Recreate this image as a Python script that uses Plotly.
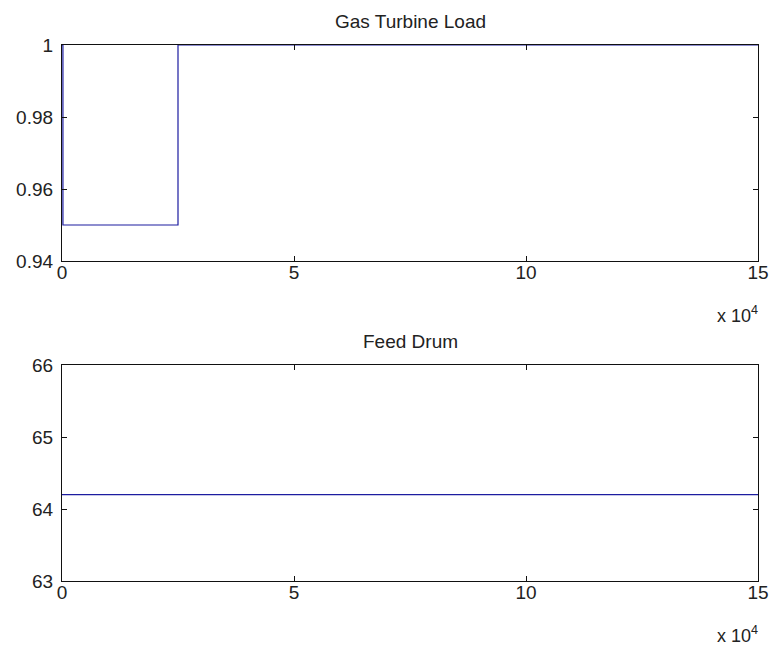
import plotly.graph_objects as go

# Gas turbine load (per-unit) step profile over time
load_t = [0, 200, 200, 25000, 25000, 150000]
load_y = [1.0, 1.0, 0.95, 0.95, 1.0, 1.0]

# Feed drum level over time
drum_t = [0, 150000]
drum_y = [64.2, 64.2]

x_tickvals = [0, 50000, 100000, 150000]
x_ticktext = ["0", "5", "10", "15"]
load_tickvals = [0.94, 0.96, 0.98, 1.0]
load_ticktext = ["0.94", "0.96", "0.98", "1"]
drum_tickvals = [63, 64, 65, 66]
drum_ticktext = ["63", "64", "65", "66"]

line_color = "#1c1ca0"
text_color = "#222222"
font_family = "Liberation Sans, Arial, sans-serif"
font_size = 19

W, H = 773, 653
ml, mr, mt, mb = 62, 15, 45, 72
plot_h = H - mt - mb
panel_h = 216
top_dom = [(plot_h - panel_h) / plot_h, 1.0]
bot_dom = [0.0, panel_h / plot_h]

fig = go.Figure()
fig.add_trace(go.Scatter(x=load_t, y=load_y, mode="lines",
                         line=dict(color=line_color, width=1.2),
                         xaxis="x", yaxis="y", showlegend=False, cliponaxis=False))
fig.add_trace(go.Scatter(x=drum_t, y=drum_y, mode="lines",
                         line=dict(color=line_color, width=1.2),
                         xaxis="x2", yaxis="y2", showlegend=False))

axis_common = dict(showline=True, linecolor="#111111", linewidth=1.2, mirror="ticks",
                   ticks="inside", ticklen=5, tickwidth=1, tickcolor="#111111",
                   showgrid=False, zeroline=False, layer="above traces", automargin=False,
                   tickfont=dict(family=font_family, size=font_size, color=text_color))

fig.update_layout(
    width=W, height=H,
    margin=dict(l=ml, r=mr, t=mt, b=mb),
    paper_bgcolor="white", plot_bgcolor="white",
    xaxis=dict(domain=[0, 1], range=[0, 150000], tickvals=x_tickvals, ticktext=x_ticktext,
               anchor="y", ticklabelstandoff=-6, **axis_common),
    yaxis=dict(domain=top_dom, range=[0.94, 1.0], tickvals=load_tickvals, ticktext=load_ticktext,
               anchor="x", ticklabelstandoff=4, **axis_common),
    xaxis2=dict(domain=[0, 1], range=[0, 150000], tickvals=x_tickvals, ticktext=x_ticktext,
                anchor="y2", ticklabelstandoff=-6, **axis_common),
    yaxis2=dict(domain=bot_dom, range=[63, 66], tickvals=drum_tickvals, ticktext=drum_ticktext,
                anchor="x2", ticklabelstandoff=4, **axis_common),
    annotations=[
        dict(text="Gas Turbine Load", x=0.5, y=top_dom[1], xref="paper", yref="paper",
             xanchor="center", yanchor="bottom", yshift=11, showarrow=False,
             font=dict(family=font_family, size=font_size, color=text_color)),
        dict(text="Feed Drum", x=0.5, y=bot_dom[1], xref="paper", yref="paper",
             xanchor="center", yanchor="bottom", yshift=11, showarrow=False,
             font=dict(family=font_family, size=font_size, color=text_color)),
        dict(text="x 10<sup>4</sup>", x=1.0, y=top_dom[0], xref="paper", yref="paper",
             xanchor="right", yanchor="top", yshift=-40, xshift=2, showarrow=False,
             font=dict(family=font_family, size=font_size - 1, color=text_color)),
        dict(text="x 10<sup>4</sup>", x=1.0, y=bot_dom[0], xref="paper", yref="paper",
             xanchor="right", yanchor="top", yshift=-40, xshift=2, showarrow=False,
             font=dict(family=font_family, size=font_size - 1, color=text_color)),
    ],
)

fig.write_html("out.html")
